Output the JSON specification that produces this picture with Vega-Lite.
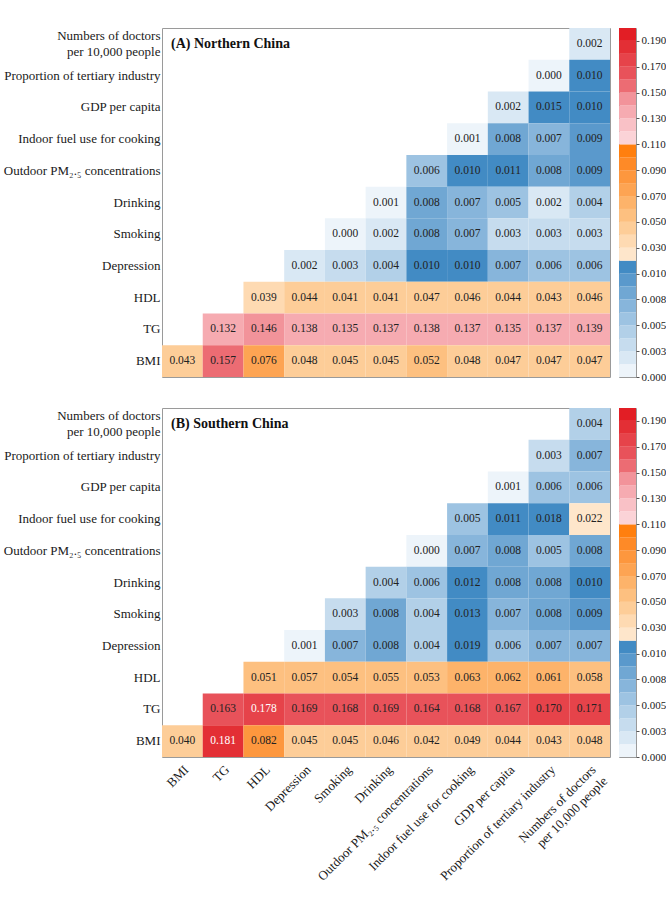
{
  "$schema": "https://vega.github.io/schema/vega-lite/v6.json",
  "padding": {"left": 2, "top": 27, "right": 2, "bottom": 5},
  "background": "white",
  "datasets": {
    "north": [
      {"row": "Numbers of doctors per 10,000 people", "col": "Numbers of doctors per 10,000 people", "value": 0.002},
      {"row": "Proportion of tertiary industry", "col": "Proportion of tertiary industry", "value": 0.000},
      {"row": "Proportion of tertiary industry", "col": "Numbers of doctors per 10,000 people", "value": 0.010},
      {"row": "GDP per capita", "col": "GDP per capita", "value": 0.002},
      {"row": "GDP per capita", "col": "Proportion of tertiary industry", "value": 0.015},
      {"row": "GDP per capita", "col": "Numbers of doctors per 10,000 people", "value": 0.010},
      {"row": "Indoor fuel use for cooking", "col": "Indoor fuel use for cooking", "value": 0.001},
      {"row": "Indoor fuel use for cooking", "col": "GDP per capita", "value": 0.008},
      {"row": "Indoor fuel use for cooking", "col": "Proportion of tertiary industry", "value": 0.007},
      {"row": "Indoor fuel use for cooking", "col": "Numbers of doctors per 10,000 people", "value": 0.009},
      {"row": "Outdoor PM₂.₅ concentrations", "col": "Outdoor PM₂.₅ concentrations", "value": 0.006},
      {"row": "Outdoor PM₂.₅ concentrations", "col": "Indoor fuel use for cooking", "value": 0.010},
      {"row": "Outdoor PM₂.₅ concentrations", "col": "GDP per capita", "value": 0.011},
      {"row": "Outdoor PM₂.₅ concentrations", "col": "Proportion of tertiary industry", "value": 0.008},
      {"row": "Outdoor PM₂.₅ concentrations", "col": "Numbers of doctors per 10,000 people", "value": 0.009},
      {"row": "Drinking", "col": "Drinking", "value": 0.001},
      {"row": "Drinking", "col": "Outdoor PM₂.₅ concentrations", "value": 0.008},
      {"row": "Drinking", "col": "Indoor fuel use for cooking", "value": 0.007},
      {"row": "Drinking", "col": "GDP per capita", "value": 0.005},
      {"row": "Drinking", "col": "Proportion of tertiary industry", "value": 0.002},
      {"row": "Drinking", "col": "Numbers of doctors per 10,000 people", "value": 0.004},
      {"row": "Smoking", "col": "Smoking", "value": 0.000},
      {"row": "Smoking", "col": "Drinking", "value": 0.002},
      {"row": "Smoking", "col": "Outdoor PM₂.₅ concentrations", "value": 0.008},
      {"row": "Smoking", "col": "Indoor fuel use for cooking", "value": 0.007},
      {"row": "Smoking", "col": "GDP per capita", "value": 0.003},
      {"row": "Smoking", "col": "Proportion of tertiary industry", "value": 0.003},
      {"row": "Smoking", "col": "Numbers of doctors per 10,000 people", "value": 0.003},
      {"row": "Depression", "col": "Depression", "value": 0.002},
      {"row": "Depression", "col": "Smoking", "value": 0.003},
      {"row": "Depression", "col": "Drinking", "value": 0.004},
      {"row": "Depression", "col": "Outdoor PM₂.₅ concentrations", "value": 0.010},
      {"row": "Depression", "col": "Indoor fuel use for cooking", "value": 0.010},
      {"row": "Depression", "col": "GDP per capita", "value": 0.007},
      {"row": "Depression", "col": "Proportion of tertiary industry", "value": 0.006},
      {"row": "Depression", "col": "Numbers of doctors per 10,000 people", "value": 0.006},
      {"row": "HDL", "col": "HDL", "value": 0.039},
      {"row": "HDL", "col": "Depression", "value": 0.044},
      {"row": "HDL", "col": "Smoking", "value": 0.041},
      {"row": "HDL", "col": "Drinking", "value": 0.041},
      {"row": "HDL", "col": "Outdoor PM₂.₅ concentrations", "value": 0.047},
      {"row": "HDL", "col": "Indoor fuel use for cooking", "value": 0.046},
      {"row": "HDL", "col": "GDP per capita", "value": 0.044},
      {"row": "HDL", "col": "Proportion of tertiary industry", "value": 0.043},
      {"row": "HDL", "col": "Numbers of doctors per 10,000 people", "value": 0.046},
      {"row": "TG", "col": "TG", "value": 0.132},
      {"row": "TG", "col": "HDL", "value": 0.146},
      {"row": "TG", "col": "Depression", "value": 0.138},
      {"row": "TG", "col": "Smoking", "value": 0.135},
      {"row": "TG", "col": "Drinking", "value": 0.137},
      {"row": "TG", "col": "Outdoor PM₂.₅ concentrations", "value": 0.138},
      {"row": "TG", "col": "Indoor fuel use for cooking", "value": 0.137},
      {"row": "TG", "col": "GDP per capita", "value": 0.135},
      {"row": "TG", "col": "Proportion of tertiary industry", "value": 0.137},
      {"row": "TG", "col": "Numbers of doctors per 10,000 people", "value": 0.139},
      {"row": "BMI", "col": "BMI", "value": 0.043},
      {"row": "BMI", "col": "TG", "value": 0.157},
      {"row": "BMI", "col": "HDL", "value": 0.076},
      {"row": "BMI", "col": "Depression", "value": 0.048},
      {"row": "BMI", "col": "Smoking", "value": 0.045},
      {"row": "BMI", "col": "Drinking", "value": 0.045},
      {"row": "BMI", "col": "Outdoor PM₂.₅ concentrations", "value": 0.052},
      {"row": "BMI", "col": "Indoor fuel use for cooking", "value": 0.048},
      {"row": "BMI", "col": "GDP per capita", "value": 0.047},
      {"row": "BMI", "col": "Proportion of tertiary industry", "value": 0.047},
      {"row": "BMI", "col": "Numbers of doctors per 10,000 people", "value": 0.047}
    ],
    "south": [
      {"row": "Numbers of doctors per 10,000 people", "col": "Numbers of doctors per 10,000 people", "value": 0.004},
      {"row": "Proportion of tertiary industry", "col": "Proportion of tertiary industry", "value": 0.003},
      {"row": "Proportion of tertiary industry", "col": "Numbers of doctors per 10,000 people", "value": 0.007},
      {"row": "GDP per capita", "col": "GDP per capita", "value": 0.001},
      {"row": "GDP per capita", "col": "Proportion of tertiary industry", "value": 0.006},
      {"row": "GDP per capita", "col": "Numbers of doctors per 10,000 people", "value": 0.006},
      {"row": "Indoor fuel use for cooking", "col": "Indoor fuel use for cooking", "value": 0.005},
      {"row": "Indoor fuel use for cooking", "col": "GDP per capita", "value": 0.011},
      {"row": "Indoor fuel use for cooking", "col": "Proportion of tertiary industry", "value": 0.018},
      {"row": "Indoor fuel use for cooking", "col": "Numbers of doctors per 10,000 people", "value": 0.022},
      {"row": "Outdoor PM₂.₅ concentrations", "col": "Outdoor PM₂.₅ concentrations", "value": 0.000},
      {"row": "Outdoor PM₂.₅ concentrations", "col": "Indoor fuel use for cooking", "value": 0.007},
      {"row": "Outdoor PM₂.₅ concentrations", "col": "GDP per capita", "value": 0.008},
      {"row": "Outdoor PM₂.₅ concentrations", "col": "Proportion of tertiary industry", "value": 0.005},
      {"row": "Outdoor PM₂.₅ concentrations", "col": "Numbers of doctors per 10,000 people", "value": 0.008},
      {"row": "Drinking", "col": "Drinking", "value": 0.004},
      {"row": "Drinking", "col": "Outdoor PM₂.₅ concentrations", "value": 0.006},
      {"row": "Drinking", "col": "Indoor fuel use for cooking", "value": 0.012},
      {"row": "Drinking", "col": "GDP per capita", "value": 0.008},
      {"row": "Drinking", "col": "Proportion of tertiary industry", "value": 0.008},
      {"row": "Drinking", "col": "Numbers of doctors per 10,000 people", "value": 0.010},
      {"row": "Smoking", "col": "Smoking", "value": 0.003},
      {"row": "Smoking", "col": "Drinking", "value": 0.008},
      {"row": "Smoking", "col": "Outdoor PM₂.₅ concentrations", "value": 0.004},
      {"row": "Smoking", "col": "Indoor fuel use for cooking", "value": 0.013},
      {"row": "Smoking", "col": "GDP per capita", "value": 0.007},
      {"row": "Smoking", "col": "Proportion of tertiary industry", "value": 0.008},
      {"row": "Smoking", "col": "Numbers of doctors per 10,000 people", "value": 0.009},
      {"row": "Depression", "col": "Depression", "value": 0.001},
      {"row": "Depression", "col": "Smoking", "value": 0.007},
      {"row": "Depression", "col": "Drinking", "value": 0.008},
      {"row": "Depression", "col": "Outdoor PM₂.₅ concentrations", "value": 0.004},
      {"row": "Depression", "col": "Indoor fuel use for cooking", "value": 0.019},
      {"row": "Depression", "col": "GDP per capita", "value": 0.006},
      {"row": "Depression", "col": "Proportion of tertiary industry", "value": 0.007},
      {"row": "Depression", "col": "Numbers of doctors per 10,000 people", "value": 0.007},
      {"row": "HDL", "col": "HDL", "value": 0.051},
      {"row": "HDL", "col": "Depression", "value": 0.057},
      {"row": "HDL", "col": "Smoking", "value": 0.054},
      {"row": "HDL", "col": "Drinking", "value": 0.055},
      {"row": "HDL", "col": "Outdoor PM₂.₅ concentrations", "value": 0.053},
      {"row": "HDL", "col": "Indoor fuel use for cooking", "value": 0.063},
      {"row": "HDL", "col": "GDP per capita", "value": 0.062},
      {"row": "HDL", "col": "Proportion of tertiary industry", "value": 0.061},
      {"row": "HDL", "col": "Numbers of doctors per 10,000 people", "value": 0.058},
      {"row": "TG", "col": "TG", "value": 0.163},
      {"row": "TG", "col": "HDL", "value": 0.178},
      {"row": "TG", "col": "Depression", "value": 0.169},
      {"row": "TG", "col": "Smoking", "value": 0.168},
      {"row": "TG", "col": "Drinking", "value": 0.169},
      {"row": "TG", "col": "Outdoor PM₂.₅ concentrations", "value": 0.164},
      {"row": "TG", "col": "Indoor fuel use for cooking", "value": 0.168},
      {"row": "TG", "col": "GDP per capita", "value": 0.167},
      {"row": "TG", "col": "Proportion of tertiary industry", "value": 0.170},
      {"row": "TG", "col": "Numbers of doctors per 10,000 people", "value": 0.171},
      {"row": "BMI", "col": "BMI", "value": 0.040},
      {"row": "BMI", "col": "TG", "value": 0.181},
      {"row": "BMI", "col": "HDL", "value": 0.082},
      {"row": "BMI", "col": "Depression", "value": 0.045},
      {"row": "BMI", "col": "Smoking", "value": 0.045},
      {"row": "BMI", "col": "Drinking", "value": 0.046},
      {"row": "BMI", "col": "Outdoor PM₂.₅ concentrations", "value": 0.042},
      {"row": "BMI", "col": "Indoor fuel use for cooking", "value": 0.049},
      {"row": "BMI", "col": "GDP per capita", "value": 0.044},
      {"row": "BMI", "col": "Proportion of tertiary industry", "value": 0.043},
      {"row": "BMI", "col": "Numbers of doctors per 10,000 people", "value": 0.048}
    ],
    "bands": [
      {"lo": 0, "hi": 0.00125}, {"lo": 0.00125, "hi": 0.0025}, {"lo": 0.0025, "hi": 0.00375},
      {"lo": 0.00375, "hi": 0.005}, {"lo": 0.005, "hi": 0.00625}, {"lo": 0.00625, "hi": 0.0075},
      {"lo": 0.0075, "hi": 0.00875}, {"lo": 0.00875, "hi": 0.01}, {"lo": 0.01, "hi": 0.01125},
      {"lo": 0.02, "hi": 0.03}, {"lo": 0.03, "hi": 0.04}, {"lo": 0.04, "hi": 0.05},
      {"lo": 0.05, "hi": 0.06}, {"lo": 0.06, "hi": 0.07}, {"lo": 0.07, "hi": 0.08},
      {"lo": 0.08, "hi": 0.09}, {"lo": 0.09, "hi": 0.1}, {"lo": 0.1, "hi": 0.11},
      {"lo": 0.11, "hi": 0.12}, {"lo": 0.12, "hi": 0.13}, {"lo": 0.13, "hi": 0.14},
      {"lo": 0.14, "hi": 0.15}, {"lo": 0.15, "hi": 0.16}, {"lo": 0.16, "hi": 0.17},
      {"lo": 0.17, "hi": 0.18}, {"lo": 0.18, "hi": 0.19}, {"lo": 0.19, "hi": 0.2}
    ]
  },
  "spacing": 24,
  "resolve": {"scale": {"x": "independent", "y": "independent", "color": "independent"}},
  "vconcat": [
    {
      "spacing": 7,
      "resolve": {"scale": {"x": "independent", "y": "independent", "color": "independent"}},
      "hconcat": [
        {
          "width": 448,
          "height": 349,
          "data": {"name": "north"},
          "layer": [
            {
              "mark": {"type": "rect"},
              "encoding": {
                "x": {"field": "col", "type": "nominal", "axis": null,
                  "scale": {"domain": ["BMI", "TG", "HDL", "Depression", "Smoking", "Drinking", "Outdoor PM₂.₅ concentrations", "Indoor fuel use for cooking", "GDP per capita", "Proportion of tertiary industry", "Numbers of doctors per 10,000 people"], "paddingInner": 0, "paddingOuter": 0}},
                "y": {"field": "row", "type": "nominal",
                  "scale": {"domain": ["Numbers of doctors per 10,000 people", "Proportion of tertiary industry", "GDP per capita", "Indoor fuel use for cooking", "Outdoor PM₂.₅ concentrations", "Drinking", "Smoking", "Depression", "HDL", "TG", "BMI"], "paddingInner": 0, "paddingOuter": 0},
                  "axis": {"title": null, "ticks": false, "domain": false, "labelPadding": 2, "labelFontSize": 13, "labelLineHeight": 16, "labelColor": "#1a1a1a", "labelLimit": 300,
                    "labelOffset": {"condition": {"test": "datum.value == 'Numbers of doctors per 10,000 people'", "value": -8}, "value": 0},
                    "labelExpr": "datum.label == 'Numbers of doctors per 10,000 people' ? ['Numbers of doctors', 'per 10,000 people'] : datum.label"}},
                "color": {"field": "value", "type": "quantitative", "legend": null,
                  "scale": {"type": "threshold",
                    "domain": [0.00125, 0.0025, 0.00375, 0.005, 0.00625, 0.0075, 0.00875, 0.01, 0.02, 0.03, 0.04, 0.05, 0.06, 0.07, 0.08, 0.09, 0.1, 0.11, 0.12, 0.13, 0.14, 0.15, 0.16, 0.17, 0.18, 0.19],
                    "range": ["#edf4fa", "#d9e8f4", "#c6dcee", "#b2d0e8", "#9dc3e2", "#87b5db", "#70a7d3", "#5a99cc", "#428bc4",
                              "#fee6cb", "#fedab2", "#fdcd98", "#fdc080", "#fdb36a", "#fda453", "#fd973e", "#fe8a27", "#ff7f0e",
                              "#fbd3d7", "#f9c1c6", "#f6abb1", "#f2939a", "#ec6c73", "#e8525a", "#e6434a", "#e32f35", "#e21e25"]}}
              }
            },
            {
              "mark": {"type": "text", "fontSize": 11.5},
              "encoding": {
                "x": {"field": "col", "type": "nominal"},
                "y": {"field": "row", "type": "nominal"},
                "text": {"field": "value", "type": "quantitative", "format": ".3f"},
                "color": {"condition": {"test": "datum.value >= 0.175", "value": "#ffffff"}, "value": "#222222"}
              }
            },
            {
              "data": {"values": [{"panel": "(A) Northern China", "col": "BMI", "row": "Numbers of doctors per 10,000 people"}]},
              "mark": {"type": "text", "align": "left", "fontSize": 14, "fontWeight": "bold", "dx": 9, "color": "#111111"},
              "encoding": {
                "x": {"field": "col", "type": "nominal", "bandPosition": 0},
                "y": {"field": "row", "type": "nominal"},
                "text": {"field": "panel"}
              }
            }
          ]
        },
        {
          "width": 17,
          "height": 349,
          "data": {"name": "bands"},
          "mark": {"type": "rect"},
          "encoding": {
            "y": {"field": "lo", "type": "quantitative",
              "scale": {"domain": [0, 0.01125, 0.02, 0.11, 0.2], "range": [349, 232.667, 232.667, 116.333, 0], "nice": false, "zero": false},
              "axis": {"orient": "right", "title": null, "grid": false, "domain": false, "tickSize": 3, "tickColor": "#555555", "labelPadding": 2, "labelFontSize": 11, "labelColor": "#1a1a1a", "format": ".3f",
                "values": [0, 0.0025, 0.005, 0.00751, 0.01, 0.03, 0.05, 0.07, 0.09, 0.11, 0.13, 0.15, 0.17, 0.19]}},
            "y2": {"field": "hi"},
            "color": {"field": "lo", "type": "quantitative", "legend": null,
              "scale": {"type": "threshold",
                "domain": [0.00125, 0.0025, 0.00375, 0.005, 0.00625, 0.0075, 0.00875, 0.01, 0.02, 0.03, 0.04, 0.05, 0.06, 0.07, 0.08, 0.09, 0.1, 0.11, 0.12, 0.13, 0.14, 0.15, 0.16, 0.17, 0.18, 0.19],
                "range": ["#edf4fa", "#d9e8f4", "#c6dcee", "#b2d0e8", "#9dc3e2", "#87b5db", "#70a7d3", "#5a99cc", "#428bc4",
                          "#fee6cb", "#fedab2", "#fdcd98", "#fdc080", "#fdb36a", "#fda453", "#fd973e", "#fe8a27", "#ff7f0e",
                          "#fbd3d7", "#f9c1c6", "#f6abb1", "#f2939a", "#ec6c73", "#e8525a", "#e6434a", "#e32f35", "#e21e25"]}}
          }
        }
      ]
    },
    {
      "spacing": 7,
      "resolve": {"scale": {"x": "independent", "y": "independent", "color": "independent"}},
      "hconcat": [
        {
          "width": 448,
          "height": 349,
          "data": {"name": "south"},
          "layer": [
            {
              "mark": {"type": "rect"},
              "encoding": {
                "x": {"field": "col", "type": "nominal",
                  "scale": {"domain": ["BMI", "TG", "HDL", "Depression", "Smoking", "Drinking", "Outdoor PM₂.₅ concentrations", "Indoor fuel use for cooking", "GDP per capita", "Proportion of tertiary industry", "Numbers of doctors per 10,000 people"], "paddingInner": 0, "paddingOuter": 0},
                  "axis": {"orient": "bottom", "title": null, "ticks": false, "domain": false, "labelAngle": -45, "labelPadding": 6, "labelFontSize": 13, "labelLineHeight": 16, "labelColor": "#1a1a1a", "labelLimit": 300,
                    "labelExpr": "datum.label == 'Numbers of doctors per 10,000 people' ? ['Numbers of doctors', 'per 10,000 people'] : datum.label"}},
                "y": {"field": "row", "type": "nominal",
                  "scale": {"domain": ["Numbers of doctors per 10,000 people", "Proportion of tertiary industry", "GDP per capita", "Indoor fuel use for cooking", "Outdoor PM₂.₅ concentrations", "Drinking", "Smoking", "Depression", "HDL", "TG", "BMI"], "paddingInner": 0, "paddingOuter": 0},
                  "axis": {"title": null, "ticks": false, "domain": false, "labelPadding": 2, "labelFontSize": 13, "labelLineHeight": 16, "labelColor": "#1a1a1a", "labelLimit": 300,
                    "labelOffset": {"condition": {"test": "datum.value == 'Numbers of doctors per 10,000 people'", "value": -8}, "value": 0},
                    "labelExpr": "datum.label == 'Numbers of doctors per 10,000 people' ? ['Numbers of doctors', 'per 10,000 people'] : datum.label"}},
                "color": {"field": "value", "type": "quantitative", "legend": null,
                  "scale": {"type": "threshold",
                    "domain": [0.00125, 0.0025, 0.00375, 0.005, 0.00625, 0.0075, 0.00875, 0.01, 0.02, 0.03, 0.04, 0.05, 0.06, 0.07, 0.08, 0.09, 0.1, 0.11, 0.12, 0.13, 0.14, 0.15, 0.16, 0.17, 0.18, 0.19],
                    "range": ["#edf4fa", "#d9e8f4", "#c6dcee", "#b2d0e8", "#9dc3e2", "#87b5db", "#70a7d3", "#5a99cc", "#428bc4",
                              "#fee6cb", "#fedab2", "#fdcd98", "#fdc080", "#fdb36a", "#fda453", "#fd973e", "#fe8a27", "#ff7f0e",
                              "#fbd3d7", "#f9c1c6", "#f6abb1", "#f2939a", "#ec6c73", "#e8525a", "#e6434a", "#e32f35", "#e21e25"]}}
              }
            },
            {
              "mark": {"type": "text", "fontSize": 11.5},
              "encoding": {
                "x": {"field": "col", "type": "nominal"},
                "y": {"field": "row", "type": "nominal"},
                "text": {"field": "value", "type": "quantitative", "format": ".3f"},
                "color": {"condition": {"test": "datum.value >= 0.175", "value": "#ffffff"}, "value": "#222222"}
              }
            },
            {
              "data": {"values": [{"panel": "(B) Southern China", "col": "BMI", "row": "Numbers of doctors per 10,000 people"}]},
              "mark": {"type": "text", "align": "left", "fontSize": 14, "fontWeight": "bold", "dx": 9, "color": "#111111"},
              "encoding": {
                "x": {"field": "col", "type": "nominal", "bandPosition": 0},
                "y": {"field": "row", "type": "nominal"},
                "text": {"field": "panel"}
              }
            }
          ]
        },
        {
          "width": 17,
          "height": 349,
          "data": {"name": "bands"},
          "mark": {"type": "rect"},
          "encoding": {
            "y": {"field": "lo", "type": "quantitative",
              "scale": {"domain": [0, 0.01125, 0.02, 0.11, 0.2], "range": [349, 232.667, 232.667, 116.333, 0], "nice": false, "zero": false},
              "axis": {"orient": "right", "title": null, "grid": false, "domain": false, "tickSize": 3, "tickColor": "#555555", "labelPadding": 2, "labelFontSize": 11, "labelColor": "#1a1a1a", "format": ".3f",
                "values": [0, 0.0025, 0.005, 0.00751, 0.01, 0.03, 0.05, 0.07, 0.09, 0.11, 0.13, 0.15, 0.17, 0.19]}},
            "y2": {"field": "hi"},
            "color": {"field": "lo", "type": "quantitative", "legend": null,
              "scale": {"type": "threshold",
                "domain": [0.00125, 0.0025, 0.00375, 0.005, 0.00625, 0.0075, 0.00875, 0.01, 0.02, 0.03, 0.04, 0.05, 0.06, 0.07, 0.08, 0.09, 0.1, 0.11, 0.12, 0.13, 0.14, 0.15, 0.16, 0.17, 0.18, 0.19],
                "range": ["#edf4fa", "#d9e8f4", "#c6dcee", "#b2d0e8", "#9dc3e2", "#87b5db", "#70a7d3", "#5a99cc", "#428bc4",
                          "#fee6cb", "#fedab2", "#fdcd98", "#fdc080", "#fdb36a", "#fda453", "#fd973e", "#fe8a27", "#ff7f0e",
                          "#fbd3d7", "#f9c1c6", "#f6abb1", "#f2939a", "#ec6c73", "#e8525a", "#e6434a", "#e32f35", "#e21e25"]}}
          }
        }
      ]
    }
  ],
  "config": {
    "font": "Liberation Serif",
    "view": {"stroke": "#9a9a9a", "strokeWidth": 1},
    "axis": {"labelFont": "Liberation Serif"},
    "text": {"font": "Liberation Serif"}
  }
}
